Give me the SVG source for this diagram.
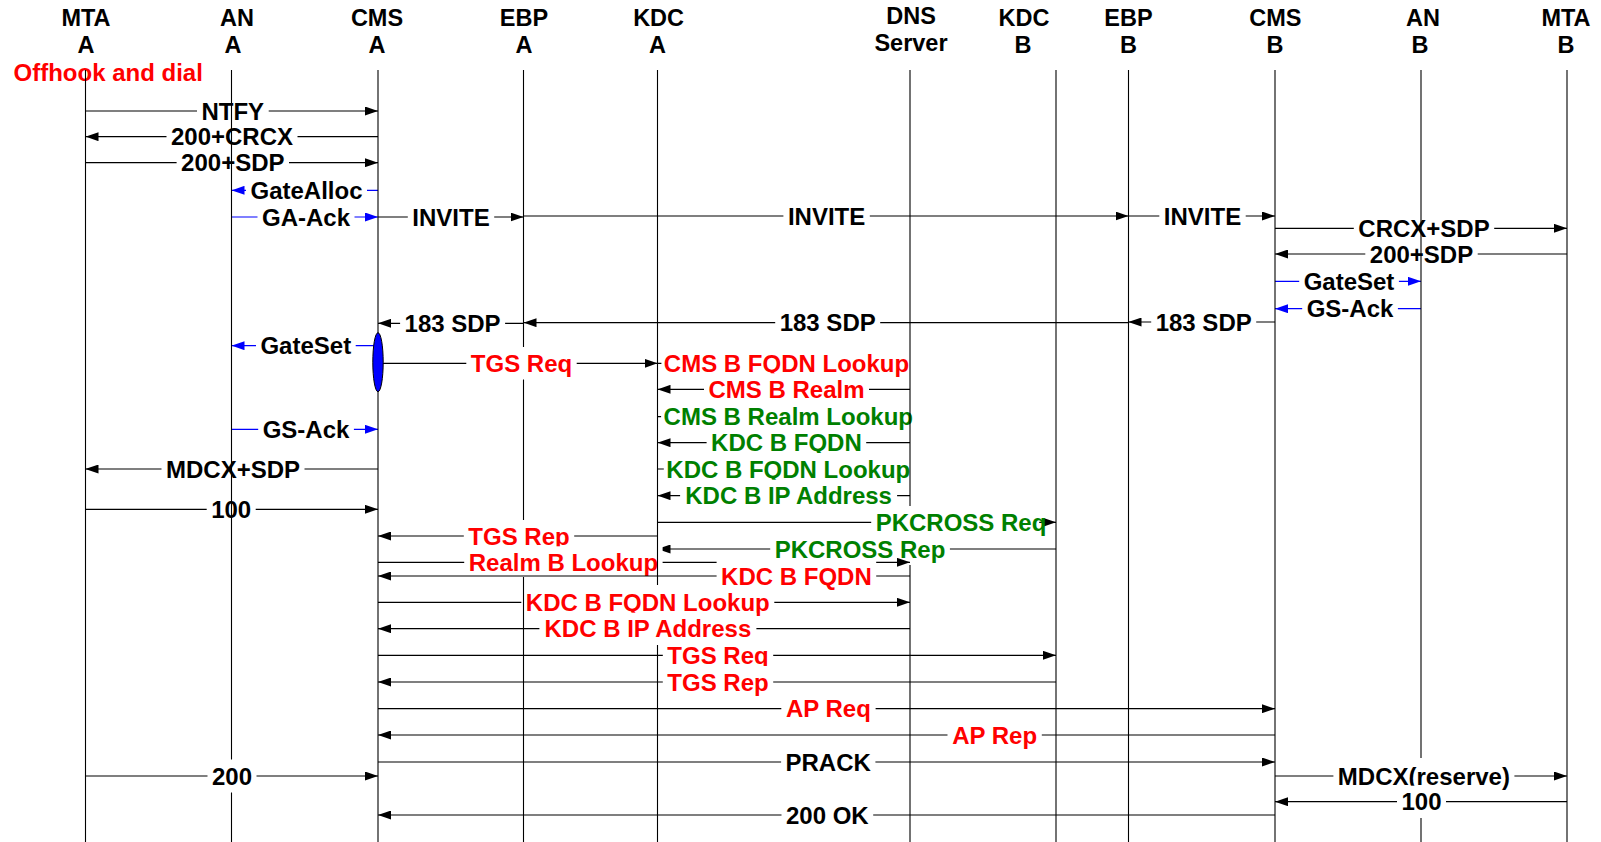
<svg xmlns="http://www.w3.org/2000/svg" width="1601" height="842" viewBox="0 0 1601 842">
<defs>
<style>
.hd{font-family:"Liberation Sans",Arial,sans-serif;font-weight:bold;font-size:23.5px;text-anchor:middle;fill:#000}
.lb{font-family:"Liberation Sans",Arial,sans-serif;font-weight:bold;font-size:24px;text-anchor:middle;fill:#000}
.red{fill:#ff0000}
.grn{fill:#008000}
.bg{fill:#fff}
.ln{stroke:#000;stroke-width:1.2;fill:none;marker-end:url(#ah)}
.bl{stroke:#0000ff;stroke-width:1.2;fill:none;marker-end:url(#ahb)}
.life{stroke:#000;stroke-width:1.1;fill:none}
</style>
<marker id="ah" markerUnits="userSpaceOnUse" markerWidth="13" markerHeight="9" viewBox="0 0 13 9" refX="13" refY="4.5" orient="auto"><path d="M0,0 L13,4.5 L0,9 Z" fill="#000"/></marker>
<marker id="ahb" markerUnits="userSpaceOnUse" markerWidth="13" markerHeight="9" viewBox="0 0 13 9" refX="13" refY="4.5" orient="auto"><path d="M0,0 L13,4.5 L0,9 Z" fill="#0000ff"/></marker>
</defs>
<rect width="1601" height="842" fill="#fff"/>
<text x="13.5" y="81" class="lb red" style="text-anchor:start">Offhook and dial</text>
<g id="connectors">
<g><line x1="85.5" y1="111" x2="378" y2="111" class="ln"/><rect x="197" y="95" width="71.7" height="32" class="bg"/><text x="232.8" y="119.5" class="lb">NTFY</text></g>
<g><line x1="378" y1="136.7" x2="85.5" y2="136.7" class="ln"/><rect x="166.5" y="120.7" width="131" height="32" class="bg"/><text x="232" y="145.2" class="lb">200+CRCX</text></g>
<g><line x1="85.5" y1="162.7" x2="378" y2="162.7" class="ln"/><rect x="176.6" y="146.7" width="112.4" height="32" class="bg"/><text x="232.8" y="171.2" class="lb">200+SDP</text></g>
<g><line x1="378" y1="190.3" x2="231.5" y2="190.3" class="bl"/><rect x="246" y="174.3" width="121" height="32" class="bg"/><text x="306.5" y="198.8" class="lb">GateAlloc</text></g>
<g><line x1="231.5" y1="217" x2="378" y2="217" class="bl"/><rect x="257.5" y="201" width="97" height="32" class="bg"/><text x="306" y="225.5" class="lb">GA-Ack</text></g>
<g><line x1="378" y1="217" x2="523.5" y2="217" class="ln"/><rect x="407.8" y="201" width="86.4" height="32" class="bg"/><text x="451" y="225.5" class="lb">INVITE</text></g>
<g><line x1="523.5" y1="216" x2="1128.5" y2="216" class="ln"/><rect x="783.4" y="200" width="86.4" height="32" class="bg"/><text x="826.6" y="224.5" class="lb">INVITE</text></g>
<g><line x1="1128.5" y1="216" x2="1275" y2="216" class="ln"/><rect x="1159.3" y="200" width="86.4" height="32" class="bg"/><text x="1202.5" y="224.5" class="lb">INVITE</text></g>
<g><line x1="1275" y1="228.3" x2="1567" y2="228.3" class="ln"/><rect x="1353.8" y="212.3" width="140.4" height="32" class="bg"/><text x="1424" y="236.8" class="lb">CRCX+SDP</text></g>
<g><line x1="1567" y1="254" x2="1275" y2="254" class="ln"/><rect x="1365.3" y="238" width="112.4" height="32" class="bg"/><text x="1421.5" y="262.5" class="lb">200+SDP</text></g>
<g><line x1="1275" y1="281.3" x2="1421" y2="281.3" class="bl"/><rect x="1299.2" y="265.3" width="99.7" height="32" class="bg"/><text x="1349" y="289.8" class="lb">GateSet</text></g>
<g><line x1="1421" y1="308.7" x2="1275" y2="308.7" class="bl"/><rect x="1302.2" y="292.7" width="95.7" height="32" class="bg"/><text x="1350" y="317.2" class="lb">GS-Ack</text></g>
<g><line x1="1275" y1="322" x2="1128.5" y2="322" class="ln"/><rect x="1151.2" y="306" width="105" height="32" class="bg"/><text x="1203.7" y="330.5" class="lb">183 SDP</text></g>
<g><line x1="1128.5" y1="322.7" x2="523.5" y2="322.7" class="ln"/><rect x="775.2" y="306.7" width="105" height="32" class="bg"/><text x="827.7" y="331.2" class="lb">183 SDP</text></g>
<g><line x1="523.5" y1="323.3" x2="378" y2="323.3" class="ln"/><rect x="400.1" y="307.3" width="105" height="32" class="bg"/><text x="452.6" y="331.8" class="lb">183 SDP</text></g>
<g><line x1="378" y1="345.7" x2="231.5" y2="345.7" class="bl"/><rect x="256" y="329.7" width="99.7" height="32" class="bg"/><text x="305.8" y="354.2" class="lb">GateSet</text></g>
<g><line x1="378" y1="363.3" x2="657.5" y2="363.3" class="ln"/><rect x="466.3" y="347.3" width="110.4" height="32" class="bg"/><text x="521.5" y="371.8" class="lb red">TGS Req</text></g>
<g><line x1="657.5" y1="363.3" x2="910" y2="363.3" class="ln"/><rect x="661.4" y="347.3" width="250.3" height="32" class="bg"/><text x="786.5" y="371.8" class="lb red">CMS B FQDN Lookup</text></g>
<g><line x1="910" y1="389.3" x2="657.5" y2="389.3" class="ln"/><rect x="704" y="373.3" width="165" height="32" class="bg"/><text x="786.5" y="397.8" class="lb red">CMS B Realm</text></g>
<g><line x1="657.5" y1="416.7" x2="910" y2="416.7" class="ln"/><rect x="661.1" y="400.7" width="254.4" height="32" class="bg"/><text x="788.3" y="425.2" class="lb grn">CMS B Realm Lookup</text></g>
<g><line x1="910" y1="442.7" x2="657.5" y2="442.7" class="ln"/><rect x="706.6" y="426.7" width="159.6" height="32" class="bg"/><text x="786.4" y="451.2" class="lb grn">KDC B FQDN</text></g>
<g><line x1="231.5" y1="429.3" x2="378" y2="429.3" class="bl"/><rect x="258.2" y="413.3" width="95.7" height="32" class="bg"/><text x="306" y="437.8" class="lb">GS-Ack</text></g>
<g><line x1="378" y1="469" x2="85.5" y2="469" class="ln"/><rect x="161.5" y="453" width="143" height="32" class="bg"/><text x="233" y="477.5" class="lb">MDCX+SDP</text></g>
<g><line x1="657.5" y1="469" x2="910" y2="469" class="ln"/><rect x="663.8" y="453" width="249" height="32" class="bg"/><text x="788.3" y="477.5" class="lb grn">KDC B FQDN Lookup</text></g>
<g><line x1="910" y1="495.7" x2="657.5" y2="495.7" class="ln"/><rect x="680.1" y="479.7" width="217" height="32" class="bg"/><text x="788.6" y="504.2" class="lb grn">KDC B IP Address</text></g>
<g><line x1="85.5" y1="509.3" x2="378" y2="509.3" class="ln"/><rect x="206.7" y="493.3" width="49" height="32" class="bg"/><text x="231.2" y="517.8" class="lb">100</text></g>
<g><line x1="657.5" y1="522.3" x2="1056" y2="522.3" class="ln"/><rect x="871.2" y="506.3" width="168" height="32" class="bg"/><text x="961" y="530.8" class="lb grn">PKCROSS Req</text></g>
<g><line x1="657.5" y1="536" x2="378" y2="536" class="ln"/><rect x="463.8" y="520" width="110.4" height="32" class="bg"/><text x="519" y="544.5" class="lb red">TGS Rep</text></g>
<g><line x1="1056" y1="549" x2="657.5" y2="549" class="ln"/><rect x="770.2" y="533" width="179.7" height="32" class="bg"/><text x="860" y="557.5" class="lb grn">PKCROSS Rep</text></g>
<g><line x1="378" y1="562.3" x2="910" y2="562.3" class="ln"/><rect x="464.2" y="546.3" width="198.4" height="32" class="bg"/><text x="563.4" y="570.8" class="lb red">Realm B Lookup</text></g>
<g><line x1="910" y1="576" x2="378" y2="576" class="ln"/><rect x="716.6" y="560" width="159.6" height="32" class="bg"/><text x="796.4" y="584.5" class="lb red">KDC B FQDN</text></g>
<g><line x1="378" y1="602.3" x2="910" y2="602.3" class="ln"/><rect x="521.3" y="586.3" width="253" height="32" class="bg"/><text x="647.8" y="610.8" class="lb red">KDC B FQDN Lookup</text></g>
<g><line x1="910" y1="628.7" x2="378" y2="628.7" class="ln"/><rect x="539.4" y="612.7" width="217" height="32" class="bg"/><text x="647.9" y="637.2" class="lb red">KDC B IP Address</text></g>
<g><line x1="378" y1="655.3" x2="1056" y2="655.3" class="ln"/><rect x="662.8" y="639.3" width="110.4" height="32" class="bg"/><text x="718" y="663.8" class="lb red">TGS Req</text></g>
<g><line x1="1056" y1="682" x2="378" y2="682" class="ln"/><rect x="662.8" y="666" width="110.4" height="32" class="bg"/><text x="718" y="690.5" class="lb red">TGS Rep</text></g>
<g><line x1="378" y1="708.7" x2="1275" y2="708.7" class="ln"/><rect x="781.3" y="692.7" width="94.3" height="32" class="bg"/><text x="828.4" y="717.2" class="lb red">AP Req</text></g>
<g><line x1="1275" y1="735" x2="378" y2="735" class="ln"/><rect x="947.5" y="719" width="94.3" height="32" class="bg"/><text x="994.6" y="743.5" class="lb red">AP Rep</text></g>
<g><line x1="378" y1="762" x2="1275" y2="762" class="ln"/><rect x="781.1" y="746" width="94.3" height="32" class="bg"/><text x="828.2" y="770.5" class="lb">PRACK</text></g>
<g><line x1="85.5" y1="776" x2="378" y2="776" class="ln"/><rect x="207.5" y="760" width="49" height="32" class="bg"/><text x="232" y="784.5" class="lb">200</text></g>
<g><line x1="1275" y1="776" x2="1567" y2="776" class="ln"/><rect x="1333.4" y="760" width="181" height="32" class="bg"/><text x="1423.9" y="784.5" class="lb">MDCX(reserve)</text></g>
<g><line x1="1567" y1="801.7" x2="1275" y2="801.7" class="ln"/><rect x="1397" y="785.7" width="49" height="32" class="bg"/><text x="1421.5" y="810.2" class="lb">100</text></g>
<g><line x1="1275" y1="815" x2="378" y2="815" class="ln"/><rect x="781.5" y="799" width="91.7" height="32" class="bg"/><text x="827.3" y="823.5" class="lb">200 OK</text></g>
</g>
<g id="mta-a"><text x="86" y="25.5" class="hd">MTA</text><text x="86" y="53" class="hd">A</text><path d="M85.5 70 V842" class="life"/></g>
<g id="an-a"><text x="237" y="25.5" class="hd">AN</text><text x="233" y="53" class="hd">A</text><path d="M231.5 70 V759.5 M231.5 792.5 V842" class="life"/></g>
<g id="cms-a"><text x="377" y="25.5" class="hd">CMS</text><text x="377" y="53" class="hd">A</text><path d="M378 70 V842" class="life"/><ellipse cx="378" cy="362.2" rx="5.2" ry="29.5" fill="#0000ff" stroke="#000" stroke-width="1"/></g>
<g id="ebp-a"><text x="524" y="25.5" class="hd">EBP</text><text x="524" y="53" class="hd">A</text><path d="M523.5 70 V347 M523.5 379.5 V520 M523.5 577 V842" class="life"/></g>
<g id="kdc-a"><text x="658.6" y="25.5" class="hd">KDC</text><text x="657.6" y="53" class="hd">A</text><path d="M657.5 70 V585 M657.5 645 V842" class="life"/></g>
<g id="dns"><text x="911" y="23.5" class="hd">DNS</text><text x="911" y="51" class="hd">Server</text><path d="M910 70 V506 M910 565 V842" class="life"/></g>
<g id="kdc-b"><text x="1024" y="25.5" class="hd">KDC</text><text x="1023" y="53" class="hd">B</text><path d="M1056 70 V842" class="life"/></g>
<g id="ebp-b"><text x="1128.5" y="25.5" class="hd">EBP</text><text x="1128.5" y="53" class="hd">B</text><path d="M1128.5 70 V842" class="life"/></g>
<g id="cms-b"><text x="1275.3" y="25.5" class="hd">CMS</text><text x="1275" y="53" class="hd">B</text><path d="M1275 70 V842" class="life"/></g>
<g id="an-b"><text x="1423" y="25.5" class="hd">AN</text><text x="1420" y="53" class="hd">B</text><path d="M1421 70 V758 M1421 818 V842" class="life"/></g>
<g id="mta-b"><text x="1566" y="25.5" class="hd">MTA</text><text x="1566" y="53" class="hd">B</text><path d="M1567 70 V842" class="life"/></g>
</svg>
